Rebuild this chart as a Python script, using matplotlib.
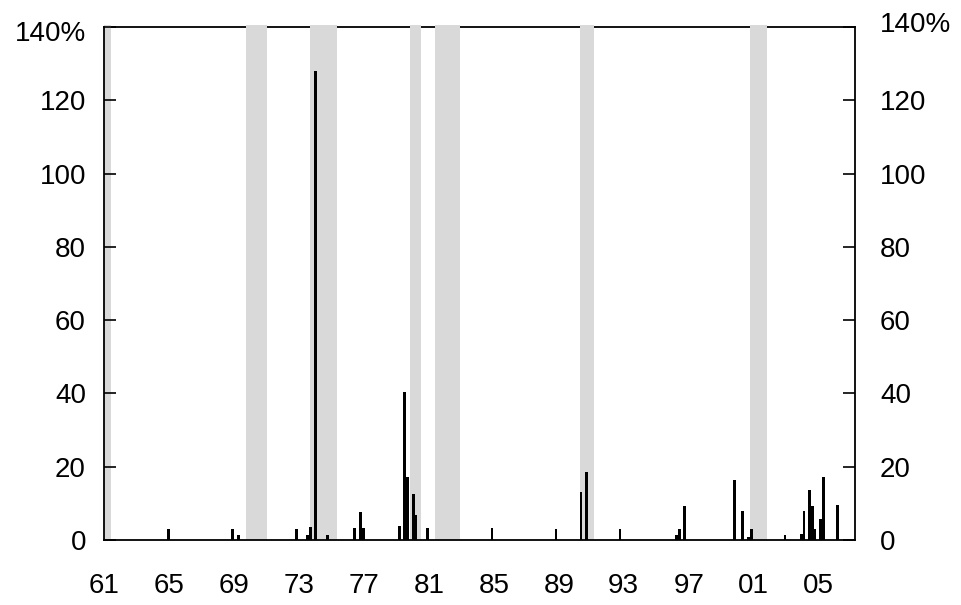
import matplotlib
matplotlib.use("Agg")
import matplotlib.pyplot as plt
from matplotlib.transforms import ScaledTranslation

plt.rcParams['font.family'] = ['Liberation Sans', 'DejaVu Sans']

# Data (year position, percent)
bar_years = [1964.96, 1968.92, 1969.27, 1972.87, 1973.52, 1973.73, 1974.05, 1974.77,
             1976.44, 1976.81, 1976.97, 1979.21, 1979.53, 1979.70, 1980.05, 1980.21,
             1980.93, 1984.89, 1988.83, 1990.37, 1990.72, 1992.77, 1996.26, 1996.41,
             1996.73, 1999.84, 2000.33, 2000.70, 2000.86, 2002.93, 2003.92, 2004.10,
             2004.44, 2004.60, 2004.75, 2005.13, 2005.30, 2006.18]
bar_values = [3.0, 3.0, 1.5, 3.0, 1.5, 3.5, 128.0, 1.5,
              3.4, 7.6, 3.4, 3.9, 40.3, 17.3, 12.5, 6.8,
              3.2, 3.2, 3.0, 13.1, 18.6, 3.0, 1.5, 3.0,
              9.3, 16.4, 7.9, 0.8, 3.0, 1.5, 1.6, 8.0,
              13.7, 9.4, 3.0, 5.7, 17.3, 9.5]

# Shaded periods (start, end) in years
band_starts = [1961.0, 1969.74, 1973.68, 1979.84, 1981.38, 1990.31, 2000.78]
band_ends = [1961.45, 1971.04, 1975.35, 1980.52, 1982.92, 1991.17, 2001.83]

x_ticks = list(range(1961, 2006, 4))
x_labels = ["61", "65", "69", "73", "77", "81", "85", "89", "93", "97", "01", "05"]
y_ticks = [0, 20, 40, 60, 80, 100, 120, 140]
y_labels = ["0", "20", "40", "60", "80", "100", "120", "140%"]

fig = plt.figure(figsize=(9.62, 6.05), dpi=100)
ax = fig.add_axes([104/962, 65/605, 751/962, 513/605])

ax.set_xlim(1961.0, 2007.24)
ax.set_ylim(0, 140)

for s, e in zip(band_starts, band_ends):
    ax.axvspan(s, e, ymin=0, ymax=1.004, color='#d9d9d9', lw=0, zorder=1, clip_on=False)

ax.bar(bar_years, bar_values, width=0.18, color='black', linewidth=0, zorder=3)

for side in ['top', 'bottom', 'left', 'right']:
    ax.spines[side].set_linewidth(1.3)
    ax.spines[side].set_color('black')
ax.spines['top'].set_zorder(0.5)

ax.set_xticks(x_ticks)
ax.set_xticklabels(x_labels)
ax.set_yticks(y_ticks)
ax.set_yticklabels(y_labels)

ax.tick_params(axis='x', length=0, pad=24, labelsize=20)
ax.tick_params(axis='y', direction='in', length=8.5, width=1.2, left=True, right=True,
               labelleft=True, labelright=True, labelsize=20, pad=13)
for t in ax.yaxis.get_major_ticks():
    t.label2.set_transform(t.label2.get_transform() + ScaledTranslation(5/72, 0, fig.dpi_scale_trans))

top_tick = ax.yaxis.get_major_ticks()[-1]
top_tick.label1.set_transform(top_tick.label1.get_transform() + ScaledTranslation(0, -4/100, fig.dpi_scale_trans))
top_tick.label2.set_transform(top_tick.label2.get_transform() + ScaledTranslation(0, 4.5/100, fig.dpi_scale_trans))

fig.savefig("out.png", dpi=100)
